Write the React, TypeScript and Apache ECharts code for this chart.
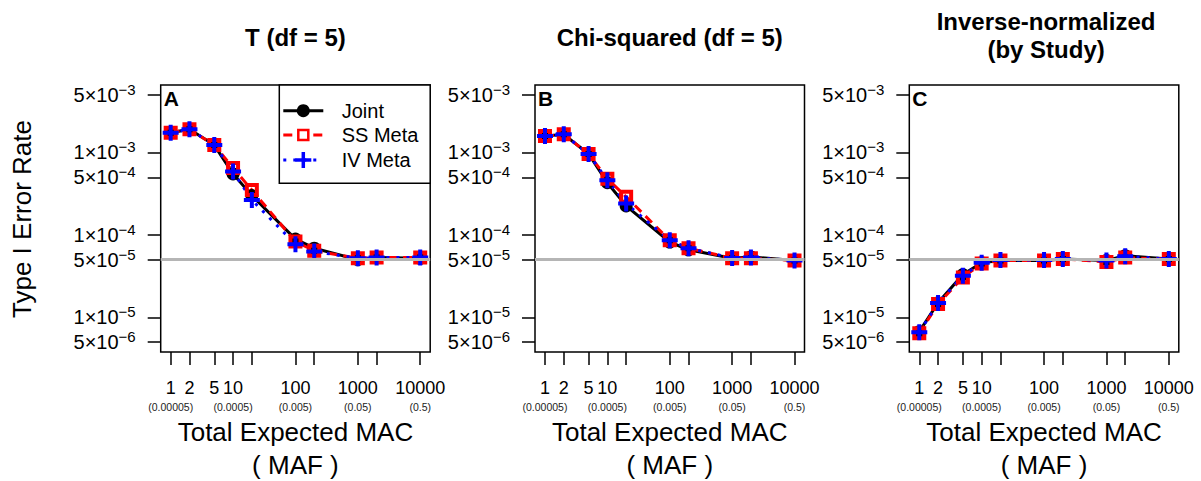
import React, { useEffect, useRef } from 'react';
import * as echarts from 'echarts';

// ---------------- data ----------------
const macValues = [1, 2, 5, 10, 20, 100, 200, 1000, 2000, 10000];
const macMainLabels = ['1', '2', '5', '10', '', '100', '', '1000', '', '10000'];
const mafSubLabels = ['(0.00005)', '', '', '(0.0005)', '', '(0.005)', '', '(0.05)', '', '(0.5)'];

const yTickMantissa = [5, 1, 5, 1, 5, 1, 5];
const yTickExponent = [-3, -3, -4, -4, -5, -5, -6];

const alphaLevel = 5e-5;

const panelTitles = ['T (df = 5)', 'Chi-squared (df = 5)', 'Inverse-normalized\n(by Study)'];
const panelLetters = ['A', 'B', 'C'];
const seriesNames = ['Joint', 'SS Meta', 'IV Meta'];

const tJoint = [1.74e-3, 1.91e-3, 1.23e-3, 5.5e-4, 3.0e-4, 8.9e-5, 6.9e-5, 5.0e-5, 5.3e-5, 5.2e-5];
const tSS = [1.74e-3, 1.91e-3, 1.23e-3, 6.5e-4, 3.5e-4, 8.3e-5, 6.4e-5, 5.2e-5, 5.3e-5, 5.3e-5];
const tIV = [1.74e-3, 1.91e-3, 1.23e-3, 5.9e-4, 2.65e-4, 7.7e-5, 6.3e-5, 5.2e-5, 5.3e-5, 5.3e-5];

const chiJoint = [1.58e-3, 1.66e-3, 9.6e-4, 4.3e-4, 2.25e-4, 8.2e-5, 6.6e-5, 5.2e-5, 5.4e-5, 4.9e-5];
const chiSS = [1.58e-3, 1.66e-3, 9.6e-4, 4.8e-4, 2.9e-4, 8.6e-5, 6.9e-5, 5.2e-5, 5.2e-5, 4.9e-5];
const chiIV = [1.58e-3, 1.66e-3, 9.6e-4, 4.6e-4, 2.4e-4, 8.6e-5, 6.9e-5, 5.25e-5, 5.3e-5, 4.9e-5];

const invJoint = [6.7e-6, 1.5e-5, 3.3e-5, 4.6e-5, 4.9e-5, 4.9e-5, 5.1e-5, 4.9e-5, 5.6e-5, 5.1e-5];
const invSS = [6.4e-6, 1.45e-5, 3.05e-5, 4.5e-5, 4.9e-5, 4.9e-5, 5.1e-5, 4.7e-5, 5.3e-5, 5.1e-5];
const invIV = [6.6e-6, 1.49e-5, 3.2e-5, 4.6e-5, 4.95e-5, 4.95e-5, 5.1e-5, 4.9e-5, 5.5e-5, 5.1e-5];

// ---------------- layout ----------------
const FONT = '"Liberation Sans", Arial, Helvetica, sans-serif';
const gridLefts = [160.7, 535, 909.3];
const gridTop = 85;
const gridWidth = 269.5;
const gridHeight = 267;
const xMin = -0.16;
const xMax = 4.16;
const yMin = -5.421;
const yMax = -2.181;

const PLUS = 'path://M6,0H10V6H16V10H10V16H6V10H0V6H6Z';

const lg = Math.log10;

export default function App() {
  const ref = useRef<HTMLDivElement>(null);

  useEffect(() => {
    if (!ref.current) return;
    const chart = echarts.init(ref.current, null, { renderer: 'svg' });

    const panels = [
      [tJoint, tSS, tIV],
      [chiJoint, chiSS, chiIV],
      [invJoint, invSS, invIV],
    ];

    const styles: any[] = [
      {
        color: '#000000', type: 'solid', symbol: 'circle', size: 13,
        itemStyle: { color: '#000000', borderWidth: 0 },
      },
      {
        color: '#ff0000', type: [9, 6], symbol: 'rect', size: 10,
        itemStyle: { color: 'rgba(0,0,0,0)', borderColor: '#ff0000', borderWidth: 4 },
      },
      {
        color: '#0000ff', type: [3, 7], symbol: PLUS, size: 16,
        itemStyle: { color: '#0000ff', borderWidth: 0 },
      },
    ];

    const yTickVals = yTickMantissa.map((m, i) => lg(m * Math.pow(10, yTickExponent[i])));
    const xTickVals = macValues.map((v) => lg(v));
    const xMainVals = macValues.filter((_, i) => macMainLabels[i] !== '').map((v) => lg(v));
    const xSubVals = macValues.filter((_, i) => mafSubLabels[i] !== '').map((v) => lg(v));

    const grids: any[] = [];
    const xAxes: any[] = [];
    const yAxes: any[] = [];
    const series: any[] = [];

    const findX = (v: number) => macValues.findIndex((m) => Math.abs(lg(m) - v) < 1e-6);

    for (let p = 0; p < 3; p++) {
      grids.push({
        left: gridLefts[p], top: gridTop, width: gridWidth, height: gridHeight,
        show: true, borderColor: '#000', borderWidth: 1.5, backgroundColor: 'transparent',
        containLabel: false,
      });
      // main x axis: ticks + MAC labels
      xAxes.push({
        type: 'value', gridIndex: p, min: xMin, max: xMax, position: 'bottom',
        axisLine: { show: false, onZero: false },
        splitLine: { show: false },
        axisTick: { show: true, customValues: xTickVals, length: 13, lineStyle: { color: '#000', width: 1.5 } },
        axisLabel: {
          show: true,
          customValues: xMainVals,
          hideOverlap: false,
          margin: 25,
          fontSize: 18,
          lineHeight: 22,
          color: '#000',
          fontFamily: FONT,
          formatter: (v: number) => {
            const i = findX(v);
            return i < 0 ? '' : macMainLabels[i];
          },
        },
      });
      // secondary x axis: MAF labels
      xAxes.push({
        type: 'value', gridIndex: p, min: xMin, max: xMax, position: 'bottom', offset: 0,
        axisLine: { show: false, onZero: false },
        splitLine: { show: false },
        axisTick: { show: false },
        axisLabel: {
          show: true,
          customValues: xSubVals,
          hideOverlap: false,
          margin: 48,
          fontSize: 10.5,
          lineHeight: 14,
          color: '#222',
          fontFamily: FONT,
          formatter: (v: number) => {
            const i = findX(v);
            return i < 0 ? '' : mafSubLabels[i];
          },
        },
      });
      yAxes.push({
        type: 'value', gridIndex: p, min: yMin, max: yMax,
        axisLine: { show: false, onZero: false },
        splitLine: { show: false },
        axisTick: { show: true, customValues: yTickVals, length: 13, lineStyle: { color: '#000', width: 1.5 } },
        axisLabel: {
          show: true,
          customValues: yTickVals,
          hideOverlap: false,
          margin: 25,
          formatter: (v: number) => {
            const i = yTickVals.findIndex((t) => Math.abs(t - v) < 1e-6);
            if (i < 0) return '';
            return `{m|${yTickMantissa[i]}\u00D710}{s|\u2212${-yTickExponent[i]}}`;
          },
          rich: {
            m: { fontSize: 20, lineHeight: 26, color: '#000', fontFamily: FONT },
            s: { fontSize: 15, lineHeight: 15, color: '#000', fontFamily: FONT, verticalAlign: 'top' },
          },
        },
      });

      const xi = p * 2;
      // reference line (alpha level)
      series.push({
        type: 'line', xAxisIndex: xi, yAxisIndex: p, data: [], silent: true,
        markLine: {
          silent: true, symbol: 'none', label: { show: false },
          lineStyle: { color: '#b5b5b5', width: 3, type: 'solid' },
          emphasis: { disabled: true },
          data: [{ yAxis: lg(alphaLevel) }],
        },
      });

      panels[p].forEach((vals, s) => {
        const st = styles[s];
        series.push({
          name: seriesNames[s],
          type: 'line', xAxisIndex: xi, yAxisIndex: p,
          data: vals.map((v, i) => [lg(macValues[i]), lg(v)]),
          symbol: st.symbol, symbolSize: st.size, showSymbol: true,
          lineStyle: { color: st.color, width: 3, type: st.type, cap: 'butt' },
          itemStyle: st.itemStyle,
          emphasis: { disabled: true },
          silent: true,
        });
      });
    }

    const graphic: any[] = [];
    const centers = gridLefts.map((l) => l + gridWidth / 2);
    const txt = (text: string, x: number, y: number, font: string, extra: any = {}) => ({
      type: 'text', x, y, silent: true, ...extra,
      style: {
        text, font, fill: '#000',
        align: 'center', verticalAlign: 'middle',
        textAlign: 'center', textVerticalAlign: 'middle',
        ...(extra.style || {}),
      },
    });

    // titles
    graphic.push(txt(panelTitles[0], centers[0], 37, `bold 24px ${FONT}`));
    graphic.push(txt(panelTitles[1], centers[1], 37, `bold 24px ${FONT}`));
    const cLines = panelTitles[2].split('\n');
    graphic.push(txt(cLines[0], centers[2] + 2, 21, `bold 24px ${FONT}`));
    graphic.push(txt(cLines[1], centers[2] + 2, 49, `bold 24px ${FONT}`));

    // panel letters
    panelLetters.forEach((L, p) => {
      graphic.push({
        type: 'text', x: gridLefts[p] + 3, y: 98.5, silent: true,
        style: {
          text: L, font: `bold 21px ${FONT}`, fill: '#000',
          align: 'left', verticalAlign: 'middle', textAlign: 'left', textVerticalAlign: 'middle',
        },
      });
    });

    // axis titles
    centers.forEach((c) => {
      graphic.push(txt('Total Expected MAC', c, 432, `26px ${FONT}`));
      graphic.push(txt('( MAF )', c, 465, `26px ${FONT}`));
    });
    graphic.push(txt('Type I Error Rate', 22, 219, `26px ${FONT}`, { rotation: Math.PI / 2 }));

    // legend (panel A)
    const lgX = 279.3;
    const lgY = gridTop;
    const lgW = gridLefts[0] + gridWidth - lgX;
    const lgH = 98.3;
    graphic.push({
      type: 'rect', silent: true, z: 10,
      shape: { x: lgX, y: lgY, width: lgW, height: lgH },
      style: { fill: '#fff', stroke: '#000', lineWidth: 1.5 },
    });
    const rowsY = [110.7, 135, 160];
    const lx1 = 283.3;
    const lx2 = 323.3;
    const mx = 303.3;
    graphic.push({ type: 'line', z: 11, silent: true, shape: { x1: lx1, y1: rowsY[0], x2: lx2, y2: rowsY[0] }, style: { stroke: '#000', lineWidth: 3 } });
    graphic.push({ type: 'circle', z: 12, silent: true, shape: { cx: mx, cy: rowsY[0], r: 6.5 }, style: { fill: '#000' } });
    graphic.push({ type: 'line', z: 11, silent: true, shape: { x1: lx1, y1: rowsY[1], x2: lx2, y2: rowsY[1] }, style: { stroke: '#ff0000', lineWidth: 3, lineDash: [9, 6] } });
    graphic.push({ type: 'rect', z: 12, silent: true, shape: { x: mx - 5, y: rowsY[1] - 5, width: 10, height: 10 }, style: { fill: '#fff', stroke: '#ff0000', lineWidth: 2.5 } });
    graphic.push({ type: 'line', z: 11, silent: true, shape: { x1: lx1, y1: rowsY[2], x2: lx2, y2: rowsY[2] }, style: { stroke: '#0000ff', lineWidth: 3, lineDash: [3, 7] } });
    graphic.push({ type: 'line', z: 12, silent: true, shape: { x1: mx - 8, y1: rowsY[2], x2: mx + 8, y2: rowsY[2] }, style: { stroke: '#0000ff', lineWidth: 3.5 } });
    graphic.push({ type: 'line', z: 12, silent: true, shape: { x1: mx, y1: rowsY[2] - 8, x2: mx, y2: rowsY[2] + 8 }, style: { stroke: '#0000ff', lineWidth: 3.5 } });
    seriesNames.forEach((n, i) => {
      graphic.push({
        type: 'text', z: 12, x: 341.7, y: rowsY[i], silent: true,
        style: {
          text: n, font: `20px ${FONT}`, fill: '#000',
          align: 'left', verticalAlign: 'middle', textAlign: 'left', textVerticalAlign: 'middle',
        },
      });
    });

    chart.setOption({
      animation: false,
      backgroundColor: '#ffffff',
      textStyle: { fontFamily: FONT },
      grid: grids,
      xAxis: xAxes,
      yAxis: yAxes,
      series,
      graphic: { elements: graphic },
    });

    return () => {
      chart.dispose();
    };
  }, []);

  return (
    <div
      ref={ref}
      style={{ position: 'fixed', left: 0, top: 0, width: 1201, height: 481, background: '#fff' }}
    />
  );
}
